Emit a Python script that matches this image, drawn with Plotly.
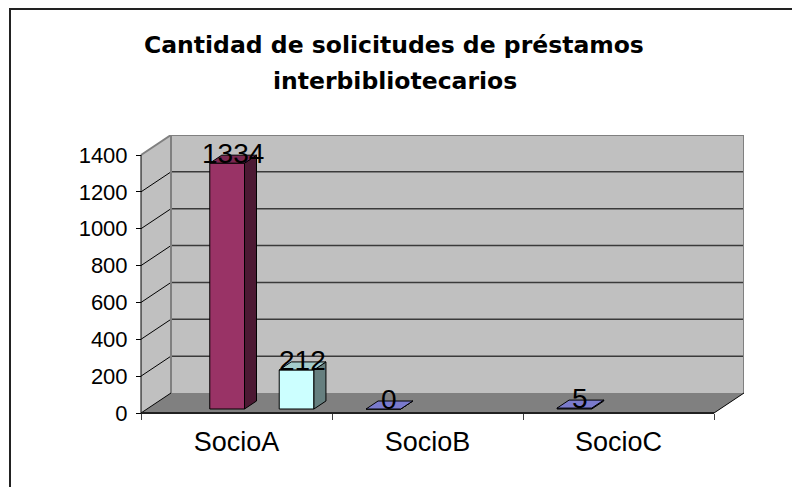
import plotly.graph_objects as go

# ---------------- data ----------------
categories = ["SocioA", "SocioB", "SocioC"]
series_names = ["Serie1", "Serie2", "Serie3", "Serie4"]
serie1 = [None, 0, 5]
serie2 = [1334, None, None]
serie3 = [None, None, None]
serie4 = [212, None, None]
y_ticks = [0, 200, 400, 600, 800, 1000, 1200, 1400]
title_lines = ["Cantidad de solicitudes de préstamos", "interbibliotecarios"]

series_values = [serie1, serie2, serie3, serie4]
front_colors = ["#9999FF", "#993366", "#FFFFCC", "#CCFFFF"]


def shade(hx, f):
    hx = hx.lstrip("#")
    r, g, b = (int(hx[i:i + 2], 16) for i in (0, 2, 4))
    return "#%02X%02X%02X" % (int(r * f), int(g * f), int(b * f))


# ---------------- geometry ----------------
W, H = 792, 487
YMAX = 1400
SX = 191.0                 # px per category
SY = 258.0 / YMAX          # px per value unit
DX = 30.0 / SX             # depth offset (category units)
DY = 20.0 / SY             # depth offset (value units)
PAD = 2.0                  # px padding so edge lines are not clipped
L_PX, T_PX = 139, 135
X0 = -0.5 - PAD / SX
X1 = len(categories) - 0.5 + DX
Y0 = -PAD / SY
Y1 = YMAX + DY
PW = (X1 - X0) * SX
PH = (Y1 - Y0) * SY
R_PX = W - L_PX - PW
B_PX = H - T_PX - PH

nser = len(series_values)
GAP = 1.5
BW = 1.0 / (nser + GAP)
F0, F1 = 0.2, 0.6
XNUDGE = 2.0 / SX

FONT = "Liberation Sans, Arial, sans-serif"


def px_x(px):
    return (px - L_PX) / PW


def px_y(py):
    return (T_PX + PH - py) / PH


fig = go.Figure()

# ---------------- bars ----------------
label_ann = []
for k, vals in enumerate(series_values):
    off = (k - (nser - 1) / 2.0) * BW + XNUDGE
    col = front_colors[k]
    bx, by = [], []
    side_x, side_y, top_x, top_y = [], [], [], []
    for i, v in enumerate(vals):
        if v is None:
            continue
        c = i + off
        bx.append(c + F0 * DX)
        by.append(v)
        x0 = c - BW / 2 + F0 * DX
        x1 = c + BW / 2 + F0 * DX
        b = F0 * DY
        t = v + F0 * DY
        ddx = (F1 - F0) * DX
        ddy = (F1 - F0) * DY
        side_x += [x1, x1 + ddx, x1 + ddx, x1, x1, None]
        side_y += [b, b + ddy, t + ddy, t, b, None]
        top_x += [x0, x1, x1 + ddx, x0 + ddx, x0, None]
        top_y += [t, t, t + ddy, t + ddy, t, None]
        label_ann.append(dict(
            x=c + (F0 + F1) / 2 * DX, y=v + (F0 + F1) / 2 * DY,
            xref="x", yref="y", text=str(v), showarrow=False,
            xanchor="center", yanchor="middle", yshift=5.5,
            font=dict(family=FONT, size=28, color="black")))
    if not bx:
        continue
    fig.add_trace(go.Bar(
        x=bx, y=by, base=F0 * DY, width=BW, name=series_names[k],
        marker=dict(color=col, line=dict(color="black", width=1)),
        showlegend=False, hoverinfo="skip"))
    fig.add_trace(go.Scatter(
        x=side_x, y=side_y, mode="lines", fill="toself",
        fillcolor=shade(col, 0.5), line=dict(color="black", width=1),
        showlegend=False, hoverinfo="skip"))
    fig.add_trace(go.Scatter(
        x=top_x, y=top_y, mode="lines", fill="toself",
        fillcolor=shade(col, 0.8), line=dict(color="black", width=1),
        showlegend=False, hoverinfo="skip"))

# ---------------- walls (3D frame) ----------------
xl, xr = -0.5, len(categories) - 0.5
shapes = []


def path(pts):
    return "M " + " L ".join("%f,%f" % p for p in pts) + " Z"


# back wall
shapes.append(dict(type="path", xref="x", yref="y", layer="below",
                   path=path([(xl + DX, DY), (xr + DX, DY), (xr + DX, YMAX + DY), (xl + DX, YMAX + DY)]),
                   fillcolor="#C0C0C0", line=dict(width=0)))
# side wall
shapes.append(dict(type="path", xref="x", yref="y", layer="below",
                   path=path([(xl, 0), (xl + DX, DY), (xl + DX, YMAX + DY), (xl, YMAX)]),
                   fillcolor="#C0C0C0", line=dict(width=0)))
# floor
shapes.append(dict(type="path", xref="x", yref="y", layer="below",
                   path=path([(xl, 0), (xr, 0), (xr + DX, DY), (xl + DX, DY)]),
                   fillcolor="#808080", line=dict(width=0)))
# gridlines
for v in y_ticks[1:]:
    shapes.append(dict(type="line", xref="x", yref="y", layer="below",
                       x0=xl + DX, x1=xr + DX, y0=v + DY, y1=v + DY,
                       line=dict(color="#3A3A3A", width=1.5)))
for v in y_ticks[1:-1]:
    shapes.append(dict(type="line", xref="x", yref="y", layer="below",
                       x0=xl, x1=xl + DX, y0=v, y1=v + DY,
                       line=dict(color="black", width=1)))
# frame edges (gray)
for (a, b) in [((xl, YMAX), (xl + DX, YMAX + DY)),
               ((xl + DX, YMAX + DY), (xr + DX, YMAX + DY)),
               ((xr + DX, YMAX + DY), (xr + DX, DY)),
               ((xl + DX, YMAX + DY), (xl + DX, DY))]:
    shapes.append(dict(type="line", xref="x", yref="y", layer="below",
                       x0=a[0], y0=a[1], x1=b[0], y1=b[1],
                       line=dict(color="#808080", width=2)))
# floor edges (dark)
shapes.append(dict(type="line", xref="x", yref="y", layer="below",
                   x0=xl, y0=0, x1=xl + DX, y1=DY, line=dict(color="black", width=1)))
shapes.append(dict(type="line", xref="x", yref="y", layer="below",
                   x0=xr, y0=0, x1=xr + DX, y1=DY, line=dict(color="black", width=1)))
shapes.append(dict(type="line", xref="x", yref="y", layer="below",
                   x0=xl, y0=0, x1=xr, y1=0, line=dict(color="#202020", width=2)))
# front value axis line
shapes.append(dict(type="line", xref="x", yref="y", layer="below",
                   x0=xl, y0=0, x1=xl, y1=YMAX, line=dict(color="black", width=1)))
# chart border (only top and left visible in the frame)
shapes.append(dict(type="rect", xref="paper", yref="paper", layer="above",
                   x0=px_x(10), y0=px_y(600), x1=px_x(900), y1=px_y(9),
                   line=dict(color="#222222", width=2), fillcolor="rgba(0,0,0,0)"))

# ---------------- title ----------------
title_ann = [
    dict(x=px_x(394), y=px_y(44.5), xref="paper", yref="paper", text=title_lines[0],
         showarrow=False, xanchor="center", yanchor="middle",
         font=dict(family="DejaVu Sans", size=23.5, color="black", weight="bold")),
    dict(x=px_x(395), y=px_y(80.5), xref="paper", yref="paper", text=title_lines[1],
         showarrow=False, xanchor="center", yanchor="middle",
         font=dict(family="DejaVu Sans", size=23.5, color="black", weight="bold")),
]

fig.update_layout(
    width=W, height=H, autosize=False,
    margin=dict(l=L_PX, r=R_PX, t=T_PX, b=B_PX, pad=0),
    paper_bgcolor="white", plot_bgcolor="white",
    barmode="overlay", showlegend=False,
    shapes=shapes, annotations=label_ann + title_ann,
    xaxis=dict(range=[X0, X1], tickvals=list(range(len(categories))), ticktext=categories,
               ticks="", showgrid=False, zeroline=False, showline=False,
               anchor="free", position=PAD / PH, ticklabelstandoff=10,
               tickfont=dict(family=FONT, size=27, color="black"),
               minor=dict(tickvals=[i - 0.5 for i in range(len(categories) + 1)],
                          ticks="outside", ticklen=6, tickcolor="#404040", tickwidth=1)),
    yaxis=dict(range=[Y0, Y1], tickvals=y_ticks, ticks="outside", ticklen=5,
               tickcolor="black", showgrid=False, zeroline=False, showline=False,
               anchor="free", position=PAD / PW, ticklabelstandoff=4,
               tickfont=dict(family=FONT, size=22, color="black")),
)

fig.write_html("out.html",
               config={"displayModeBar": False, "staticPlot": True},
               post_script="document.body.style.margin='0px';document.body.style.overflow='hidden';")
